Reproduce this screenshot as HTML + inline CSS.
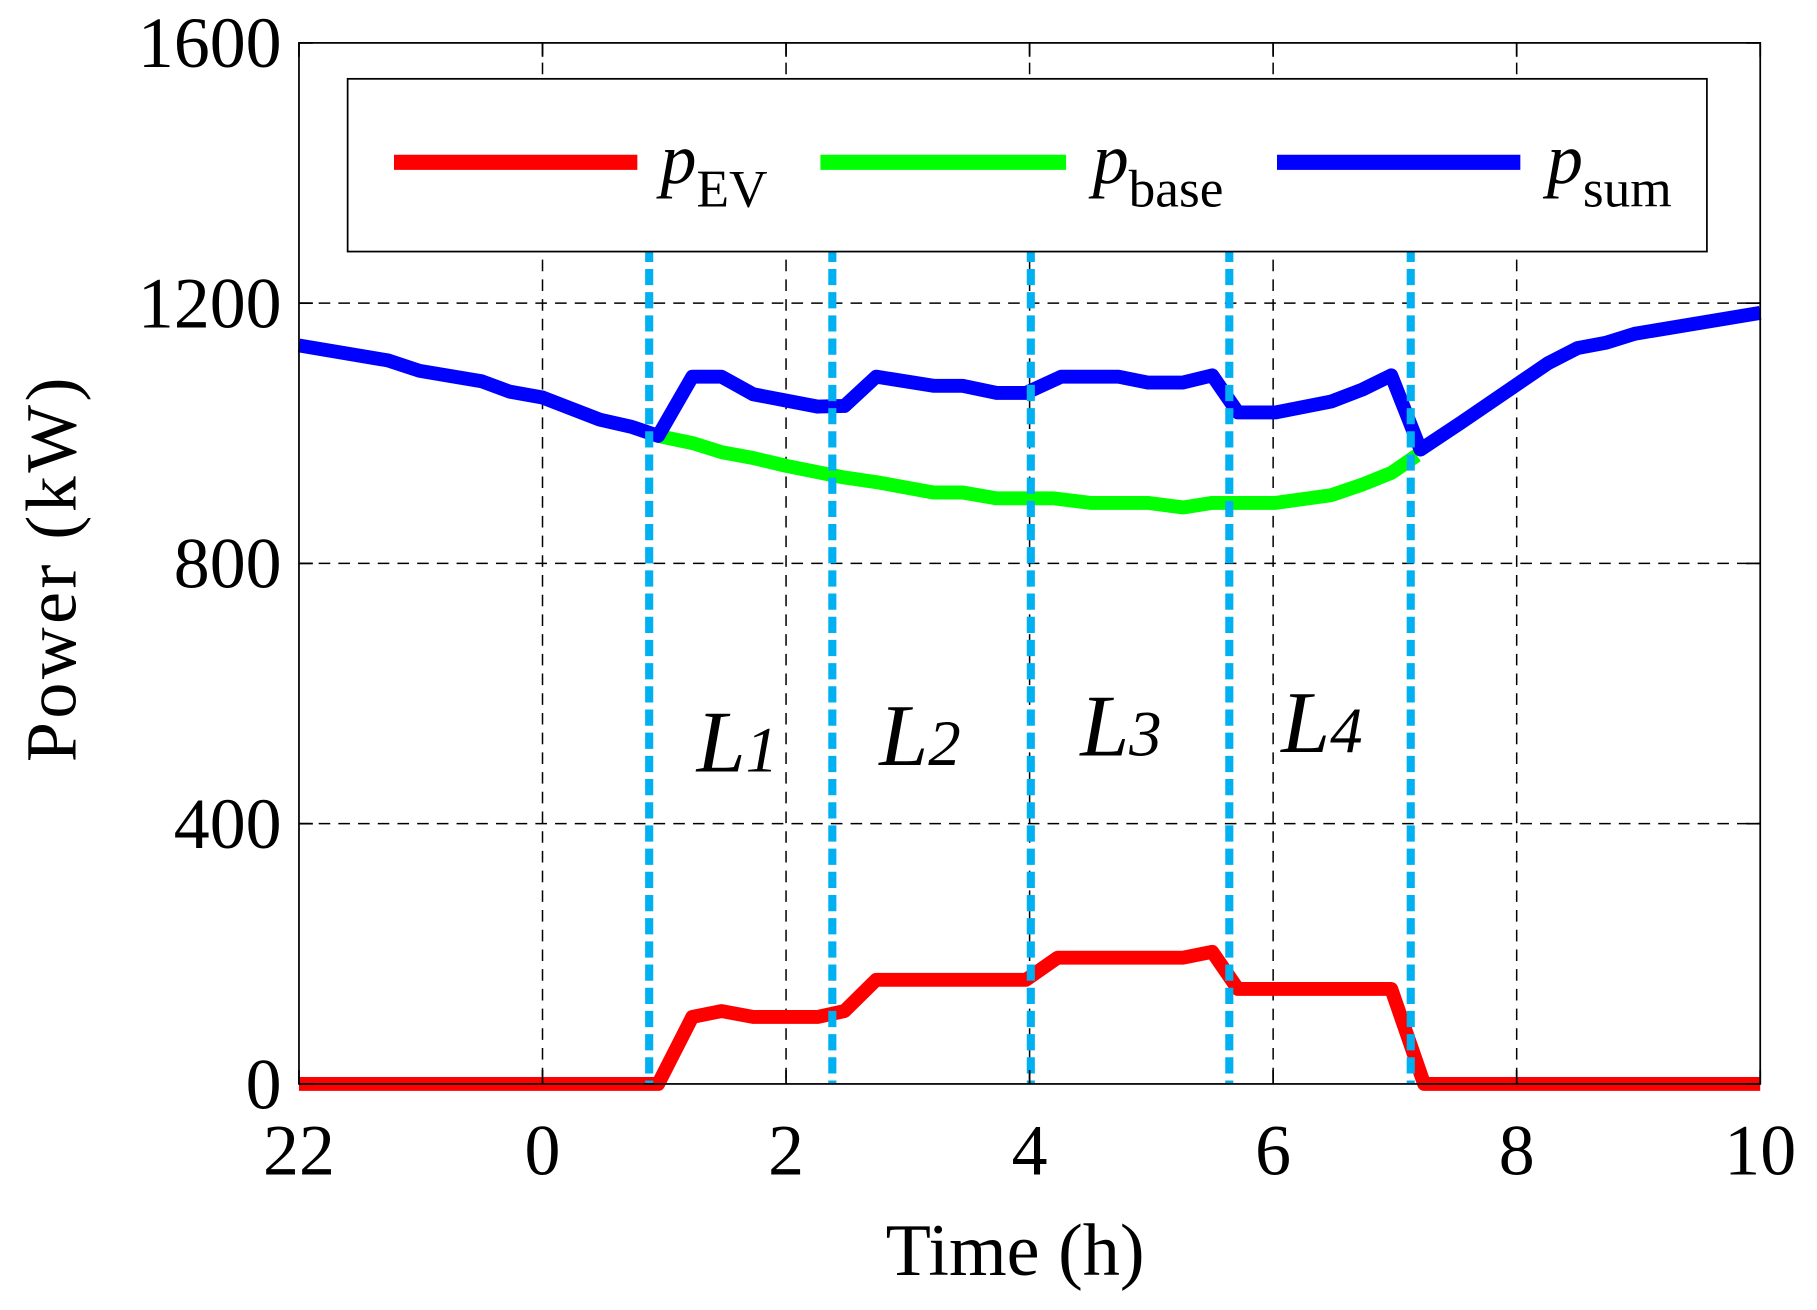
<!DOCTYPE html>
<html><head><meta charset="utf-8"><style>html,body{margin:0;padding:0;background:#fff}svg{display:block}</style></head>
<body>
<svg id="chart" width="1817" height="1310" viewBox="0 0 1568 1130" preserveAspectRatio="none" xmlns="http://www.w3.org/2000/svg" font-family="'Liberation Serif', serif">
<rect x="0" y="0" width="1568" height="1130" fill="#fff"/>
<g id="grid"></g>
<g id="series"></g>
<g id="axes"></g>
<g>
<rect x="300" y="68" width="1173" height="149" fill="#fff" stroke="#000" stroke-width="1.5"/>
<line x1="340" y1="140" x2="550" y2="140" stroke="#ff0000" stroke-width="13"/>
<text x="570" y="158" font-size="62" font-style="italic">p<tspan font-style="normal" font-size="46" dy="20">EV</tspan></text>
<line x1="708" y1="140" x2="920" y2="140" stroke="#00ff00" stroke-width="13"/>
<text x="943" y="158" font-size="62" font-style="italic">p<tspan font-style="normal" font-size="46" dy="20">base</tspan></text>
<line x1="1102" y1="140" x2="1312" y2="140" stroke="#0000ff" stroke-width="13"/>
<text x="1335" y="158" font-size="62" font-style="italic">p<tspan font-style="normal" font-size="46" dy="20">sum</tspan></text>
</g>
<text x="876" y="1100" font-size="64" text-anchor="middle">Time (h)</text>
<text transform="translate(65,490) rotate(-90)" font-size="62" text-anchor="middle" letter-spacing="3">Power (kW)</text>
</svg>
<script>
const xTickVals=[-2,0,2,4,6,8,10];
const xTickLabels=["22","0","2","4","6","8","10"];
const yTickVals=[0,400,800,1200,1600];
const sumT=[-2,-1.27,-1.01,-0.5,-0.27,0,0.47,0.73,0.95,1.23,1.47,1.73,2.26,2.48,2.74,3.21,3.45,3.73,3.97,4.26,4.73,4.97,5.26,5.5,5.71,6.02,6.48,6.73,6.97,7.21,7.54,8.26,8.5,8.73,8.97,10];
const sumV=[1135,1112,1096,1080,1064,1055,1021,1010,996,1087,1087,1060,1041,1042,1087,1073,1073,1062,1062,1087,1087,1078,1078,1089,1032,1032,1049,1067,1089,975,1016,1108,1131,1139,1153,1185];
const baseT=[0.95,1.23,1.47,1.73,2,2.48,2.74,3.21,3.45,3.73,4.2,4.5,4.97,5.26,5.5,6.02,6.48,6.73,6.97,7.18];
const baseV=[996,985,971,962,950,932,925,909,909,900,900,893,893,886,893,893,905,921,939,966];
const evT=[-2,0.95,1.23,1.47,1.73,2.26,2.48,2.74,3.97,4.23,5.26,5.5,5.71,6.97,7.24,10];
const evV=[0,0,103,112,103,103,112,160,160,194,194,203,146,146,0,0];
const periodT=[0.876,2.38,4.01,5.64,7.13];
const periodLabels=["1","2","3","4"];
const labelT=[1.6,3.1,4.75,6.4];
const labelV=[480,490,505,510];
const NS="http://www.w3.org/2000/svg";
const X0=258,X1=1519,Y0=935,Y1=37;
const sx=t=>X0+(t+2)/12*(X1-X0);
const sy=v=>Y0-v/1600*(Y0-Y1);
function mk(tag,attrs,parent){const e=document.createElementNS(NS,tag);for(const k in attrs)e.setAttribute(k,attrs[k]);parent.appendChild(e);return e;}
const grid=document.getElementById('grid'),axes=document.getElementById('axes'),ser=document.getElementById('series');
xTickVals.forEach((t,i)=>{
  if(i>0&&i<xTickVals.length-1){const g=mk('line',{x1:sx(t),x2:sx(t),y1:Y1,y2:Y0,stroke:'#000','stroke-width':1.3,'stroke-dasharray':'10 7'},grid);
  
  }
  mk('line',{x1:sx(t),x2:sx(t),y1:Y0,y2:Y0-12,stroke:'#000','stroke-width':1.5},axes);
  mk('line',{x1:sx(t),x2:sx(t),y1:Y1,y2:Y1+12,stroke:'#000','stroke-width':1.5},axes);
  const tx=mk('text',{x:sx(t),y:1013,'font-size':62,'text-anchor':'middle'},axes);tx.textContent=xTickLabels[i];
  
  
});
yTickVals.forEach((v,i)=>{
  if(i>0&&i<yTickVals.length-1){const g=mk('line',{x1:X0,x2:X1,y1:sy(v),y2:sy(v),stroke:'#000','stroke-width':1.3,'stroke-dasharray':'10 7'},grid);
  
  }
  mk('line',{x1:X0,x2:X0+12,y1:sy(v),y2:sy(v),stroke:'#000','stroke-width':1.5},axes);
  mk('line',{x1:X1,x2:X1-12,y1:sy(v),y2:sy(v),stroke:'#000','stroke-width':1.5},axes);
  const tx=mk('text',{x:243,y:sy(v)+21,'font-size':62,'text-anchor':'end'},axes);tx.textContent=String(v);
  
  
});
const box=mk('rect',{x:X0,y:Y1,width:X1-X0,height:Y0-Y1,fill:'none',stroke:'#000','stroke-width':1.5},axes);


function line(T,V,color,name){const p=mk('polyline',{points:T.map((t,i)=>sx(t)+','+sy(V[i])).join(' '),fill:'none',stroke:color,'stroke-width':12,'stroke-linejoin':'round'},ser);

}
line(evT,evV,'#ff0000','line-p-ev');
line(baseT,baseV,'#00ff00','line-p-base');
line(sumT,sumV,'#0000ff','line-p-sum');
periodT.forEach(t=>{const l=mk('line',{x1:sx(t),x2:sx(t),y1:212,y2:Y0,stroke:'#00b0f0','stroke-width':7,'stroke-dasharray':'14 6'},ser);

});
labelT.forEach((t,i)=>{const tx=mk('text',{x:sx(t),y:sy(labelV[i]),'font-size':76,'font-style':'italic','text-anchor':'middle'},ser);
tx.innerHTML='L<tspan font-size="56" font-style="italic">'+periodLabels[i]+'</tspan>';

});
</script>
</body></html>
